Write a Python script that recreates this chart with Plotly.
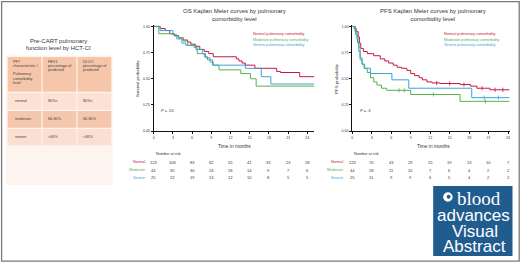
import plotly.graph_objects as go

W, H = 520, 264
FONT = "Liberation Sans, Arial, sans-serif"
RED, GREEN, BLUE = "#c8173f", "#58b04f", "#3aa3dc"

# ---------------- data ----------------
groups = ["Normal", "Moderate", "Severe"]
legend_labels = ["Normal pulmonary comorbidity", "Moderate pulmonary comorbidity", "Severe pulmonary comorbidity"]
time_ticks = [0, 3, 6, 9, 12, 15, 18, 21, 24]
prob_ticks = [0.0, 0.25, 0.5, 0.75, 1.0]
prob_tick_labels = ["0.00", "0.25", "0.50", "0.75", "1.00"]

os_normal_t = [0, 1.0, 1.8, 2.5, 3.2, 3.9, 4.6, 5.3, 5.8, 6.5, 7.2, 7.9, 8.6, 9.3, 12.9, 13.3, 13.8, 14.3, 15.8, 19.2, 19.8, 22.8, 25.1]
os_normal_s = [1.0, 0.98, 0.96, 0.93, 0.91, 0.89, 0.87, 0.85, 0.83, 0.81, 0.78, 0.76, 0.74, 0.71, 0.69, 0.67, 0.65, 0.63, 0.60, 0.57, 0.56, 0.52, 0.52]
os_moderate_t = [0, 0.8, 3.3, 3.9, 4.6, 5.3, 6.3, 6.8, 7.9, 8.4, 9.2, 10.2, 13.6, 15.1, 16.0, 25.1]
os_moderate_s = [1.0, 0.93, 0.91, 0.89, 0.86, 0.82, 0.80, 0.74, 0.71, 0.68, 0.63, 0.585, 0.55, 0.50, 0.43, 0.43]
os_severe_t = [0, 1.0, 3.0, 3.6, 4.4, 5.0, 6.6, 7.6, 8.1, 8.8, 9.3, 14.3, 16.8, 18.3, 25.1]
os_severe_s = [1.0, 0.96, 0.92, 0.88, 0.84, 0.82, 0.78, 0.74, 0.70, 0.66, 0.63, 0.60, 0.52, 0.45, 0.45]

pfs_normal_t = [0, 0.3, 0.6, 0.9, 1.1, 1.3, 1.7, 2.3, 3.3, 4.3, 5.0, 5.6, 6.3, 6.9, 7.6, 8.4, 9.0, 9.6, 10.3, 10.8, 11.5, 12.3, 13.5, 16.6, 18.2, 19.2, 21.2, 24.2]
pfs_normal_s = [1.0, 0.98, 0.95, 0.90, 0.84, 0.79, 0.76, 0.74, 0.72, 0.69, 0.67, 0.65, 0.63, 0.61, 0.60, 0.58, 0.55, 0.53, 0.51, 0.49, 0.47, 0.46, 0.455, 0.445, 0.43, 0.41, 0.395, 0.395]
pfs_moderate_t = [0, 0.4, 0.7, 1.0, 1.2, 1.5, 1.9, 2.3, 2.8, 3.3, 3.8, 4.5, 5.3, 9.0, 16.6, 24.2]
pfs_moderate_s = [1.0, 0.95, 0.88, 0.80, 0.70, 0.64, 0.60, 0.56, 0.51, 0.47, 0.44, 0.41, 0.39, 0.35, 0.285, 0.285]
pfs_severe_t = [0, 0.5, 0.8, 1.0, 1.2, 1.5, 1.8, 2.8, 6.1, 8.7, 18.4, 24.2]
pfs_severe_s = [1.0, 0.92, 0.84, 0.76, 0.68, 0.64, 0.60, 0.55, 0.49, 0.41, 0.32, 0.32]

# censoring marks seen on the PFS curves (months)
pfs_normal_cens = [13.0, 15.0, 17.2, 20.0, 22.0, 23.2]
pfs_moderate_cens = [7.2, 8.0, 12.5, 20.5]
pfs_severe_cens = [20.3, 22.5]

os_risk = {"Normal": [123, 106, 83, 62, 55, 41, 33, 23, 18],
           "Moderate": [44, 35, 30, 24, 18, 14, 9, 7, 6],
           "Severe": [25, 22, 19, 13, 12, 10, 8, 5, 5]}
pfs_risk = {"Normal": [123, 70, 43, 29, 25, 19, 13, 10, 7],
            "Moderate": [44, 18, 11, 10, 7, 6, 4, 2, 2],
            "Severe": [25, 11, 9, 9, 6, 5, 4, 2, 2]}

table_title = ["Pre-CART pulmonary", "function level by HCT-CI"]
table_header = [["PFT", "characteristic /", "", "Pulmonary", "comorbidity", "level"],
                ["FEV1", "percentage of", "predicted"],
                ["DLCO", "percentage of", "predicted"]]
table_rows = [["normal", "80%<", "80%<"],
              ["moderate", "66-80%", "66-80%"],
              ["severe", "<66%", "<66%"]]

# ---------------- helpers ----------------
def px(X):
    return X / W

def py(Y):
    return 1 - Y / H

def step_value(ts, ss, t):
    v = ss[0]
    for a, b in zip(ts, ss):
        if a <= t:
            v = b
    return v

fig = go.Figure()
colors = [RED, GREEN, BLUE]

os_curves = [(os_normal_t, os_normal_s), (os_moderate_t, os_moderate_s), (os_severe_t, os_severe_s)]
pfs_curves = [(pfs_normal_t, pfs_normal_s), (pfs_moderate_t, pfs_moderate_s), (pfs_severe_t, pfs_severe_s)]
pfs_cens = [pfs_normal_cens, pfs_moderate_cens, pfs_severe_cens]

for (t, s), c in zip(os_curves, colors):
    fig.add_trace(go.Scatter(x=t, y=s, mode="lines", line=dict(color=c, width=1, shape="hv"),
                             xaxis="x", yaxis="y", showlegend=False, hoverinfo="skip"))
for (t, s), c, cens in zip(pfs_curves, colors, pfs_cens):
    fig.add_trace(go.Scatter(x=t, y=s, mode="lines", line=dict(color=c, width=1, shape="hv"),
                             xaxis="x2", yaxis="y2", showlegend=False, hoverinfo="skip"))
    fig.add_trace(go.Scatter(x=cens, y=[step_value(t, s, v) for v in cens], mode="markers",
                             marker=dict(symbol="line-ns", size=3, line=dict(color=c, width=0.8)),
                             xaxis="x2", yaxis="y2", showlegend=False, hoverinfo="skip"))

ydom = [py(131.7), py(24.6)]
axis_common = dict(showgrid=False, zeroline=False, showline=True, linecolor="#111", linewidth=1,
                   ticks="outside", ticklen=2, tickwidth=0.8, tickcolor="#111",
                   tickfont=dict(size=3.6, color="#333", family=FONT))
fig.update_layout(
    xaxis=dict(domain=[px(153), px(314)], range=[0, 25.1], tickvals=time_ticks, anchor="y", **axis_common),
    yaxis=dict(domain=ydom, range=[0, 1.01], tickvals=prob_ticks, ticktext=prob_tick_labels, anchor="x", **axis_common),
    xaxis2=dict(domain=[px(352), px(510)], range=[0, 24.3], tickvals=time_ticks, anchor="y2", **axis_common),
    yaxis2=dict(domain=ydom, range=[0, 1.01], tickvals=prob_ticks, ticktext=prob_tick_labels, anchor="x2", **axis_common),
)

ann = []
shapes = []

def text(x, y, s, size=4, color="#333", xanchor="center", xref="paper", yref="paper", family=FONT, angle=0):
    ann.append(dict(x=x, y=y, xref=xref, yref=yref, text=s, showarrow=False, xanchor=xanchor,
                    yanchor="middle", textangle=angle,
                    font=dict(size=size, color=color, family=family)))

# chart titles, axis titles, legends, risk tables
for cx, xa, title, ylab, pval, px0, risk, lab_r in [
        (233.5, "x", "OS Kaplan Meier curves by pulmonary<br>comorbidity level", "Survival probability", "<i>P</i> = .55", 250, os_risk, 146),
        (433, "x2", "PFS Kaplan Meier curves by pulmonary<br>comorbidity level", "PFS probability", "<i>P</i> = .3", 442, pfs_risk, 345)]:
    ann.append(dict(x=px(cx), y=py(14), xref="paper", yref="paper", text=title, showarrow=False,
                    xanchor="center", yanchor="middle", align="center",
                    font=dict(size=6, color="#333", family=FONT)))
    ya = "y" if xa == "x" else "y2"
    text(px(lab_r - 9), py(78.5), ylab, size=4.4, angle=-90)
    text(px(cx), py(147), "Time in months", size=4.8)
    text(0.9, 0.2, pval, size=4, xanchor="left", xref=xa, yref=ya)
    for i, (lab, c) in enumerate(zip(legend_labels, colors)):
        text(px(px0), py(33 + 6 * i), lab, size=3.8, color=c, xanchor="left")
    text(0, py(155), "Number at risk", size=3.8, xanchor="left", xref=xa)
    for i, (g, c) in enumerate(zip(groups, colors)):
        yy = py(163 + 8 * i)
        text(px(lab_r), yy, g, size=3.8, color=c, xanchor="right")
        for tv, n in zip(time_ticks, risk[g]):
            text(tv, yy, str(n), size=4, xref=xa)

# left table
text(px(58), py(40), table_title[0], size=6)
text(px(58), py(48), table_title[1], size=6)
shapes.append(dict(type="rect", xref="paper", yref="paper", x0=px(5), x1=px(112), y0=py(186), y1=py(55),
                   fillcolor="#fdf4ef", line=dict(width=0), layer="below"))
col_x = [(6.7, 40.5), (41.7, 75.5), (76.7, 110.5)]
row_y = [(56.7, 91.8), (93, 110), (111.2, 128.2), (129.4, 146)]
row_fill = ["#f5c6a9", "#fbe2d4", "#f5c8ad", "#fbe0d1"]
for r, (y0, y1) in enumerate(row_y):
    for (x0, x1) in col_x:
        shapes.append(dict(type="rect", xref="paper", yref="paper", x0=px(x0), x1=px(x1), y0=py(y1), y1=py(y0),
                           fillcolor=row_fill[r], line=dict(width=0), layer="below"))
for c, lines in enumerate(table_header):
    for k, ln in enumerate(lines):
        if ln:
            text(px(col_x[c][0] + 3.3), py(61.7 + 4.2 * k), ln, size=3.8, xanchor="left", color="#444")
row_text_y = [101.5, 119.7, 137.7]
for r, row in enumerate(table_rows):
    for c, val in enumerate(row):
        text(px(col_x[c][0] + (5 if c == 0 else 3.5)), py(row_text_y[r]), val, size=3.8, xanchor="left", color="#444")

# logo
shapes.append(dict(type="rect", xref="paper", yref="paper", x0=px(433), x1=px(512.5), y0=py(258), y1=py(187),
                   fillcolor="#215c8f", line=dict(width=0)))
shapes.append(dict(type="circle", xref="paper", yref="paper", x0=px(443), x1=px(452.5), y0=py(203), y1=py(193.5),
                   fillcolor="white", line=dict(width=0)))
shapes.append(dict(type="circle", xref="paper", yref="paper", x0=px(446.5), x1=px(450.5), y0=py(200), y1=py(196),
                   fillcolor="#215c8f", line=dict(width=0)))
text(px(479), py(199.5), "blood", size=19, color="white", family="Liberation Serif, DejaVu Serif, serif")
text(px(473.5), py(216.5), "advances", size=17, color="white")
text(px(475), py(233), "Visual", size=17, color="white")
text(px(474), py(248.5), "Abstract", size=17, color="white")

# outer frame
shapes.append(dict(type="rect", xref="paper", yref="paper", x0=px(0.6), x1=px(519.2), y0=py(263.2), y1=py(0.6),
                   line=dict(color="#7a7a7a", width=1.3), fillcolor="rgba(0,0,0,0)"))

fig.update_layout(width=W, height=H, autosize=False, margin=dict(l=0, r=0, t=0, b=0),
                  paper_bgcolor="white", plot_bgcolor="white", annotations=ann, shapes=shapes,
                  showlegend=False, font=dict(family=FONT))
fig.write_html("out.html", config={"displayModeBar": False},
               post_script="document.body.style.margin='0px';document.body.style.overflow='hidden';")
